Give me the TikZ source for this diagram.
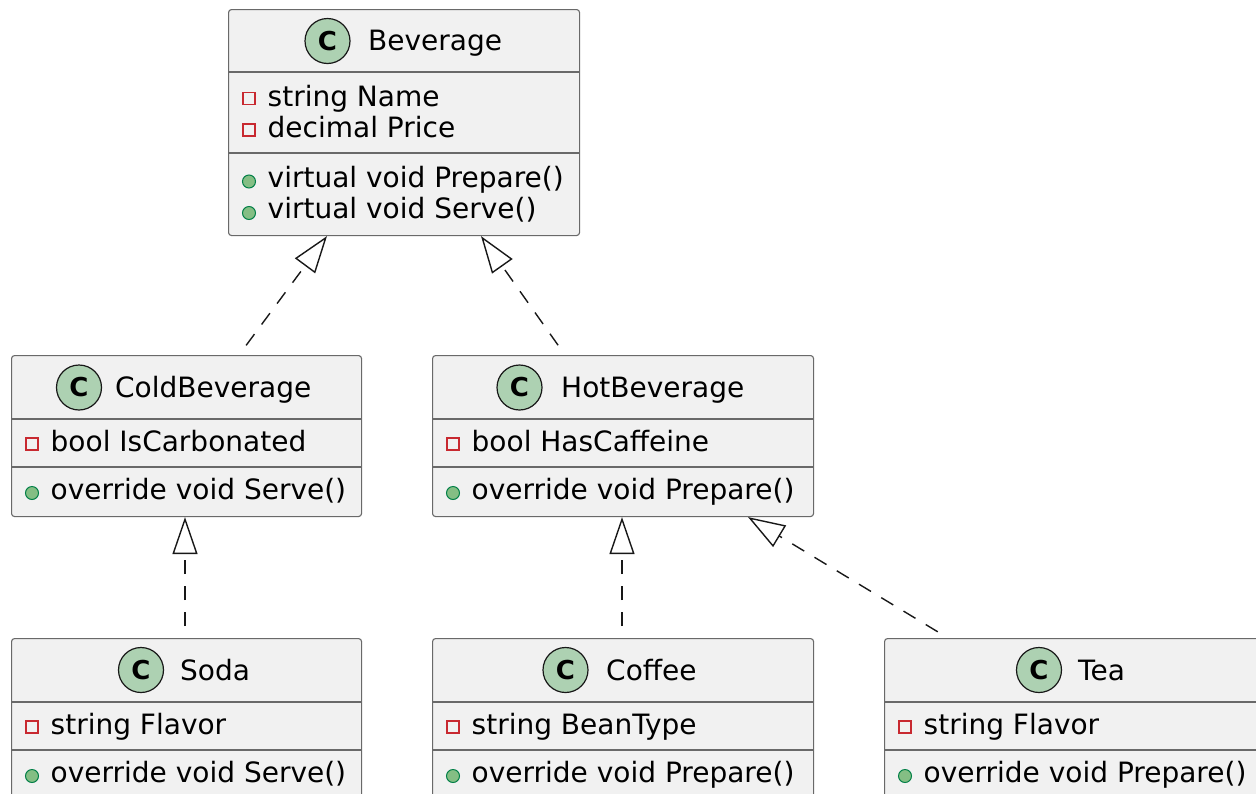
\documentclass[tikz,border=0pt]{standalone}
\usepackage{fontspec}
\setmainfont{DejaVu Sans}
\usetikzlibrary{arrows.meta,positioning}
\definecolor{boxfill}{HTML}{F1F1F1}
\definecolor{boxline}{HTML}{181818}
\definecolor{spotfill}{HTML}{ADD1B2}
\definecolor{privred}{HTML}{C82930}
\definecolor{pubfill}{HTML}{84BE84}
\definecolor{publine}{HTML}{038048}
\tikzset{
	classbox/.style = {draw = boxline!65, fill = boxfill, line width = 1.1pt, rounded corners = 3pt, inner sep = 0pt, anchor = north west},
	sepline/.style = {draw = boxline!65, line width = 1.1pt},
	spot/.style = {circle, draw = boxline, fill = spotfill, line width = 1.2pt, minimum size = 45pt, inner sep = 0pt, font = \fontsize{26}{26}\selectfont\bfseries},
	title/.style = {inner sep = 0pt, anchor = base west, font = \fontsize{28}{32}\selectfont},
	member/.style = {inner sep = 0pt, anchor = base west, font = \fontsize{28}{32}\selectfont},
	priv/.style = {draw = privred, line width = 1.3pt, minimum size = 12pt, inner sep = 0pt},
	pub/.style = {circle, draw = publine, fill = pubfill, line width = 1pt, minimum size = 13pt, inner sep = 0pt},
	extends/.style = {draw = boxline, line width = 1.4pt, dash pattern = on 14pt off 12pt, shorten <= 12pt, -{Triangle[open, length = 37pt, width = 25pt]}}
}
\begin{document}
\begin{tikzpicture}[x = 1pt, y = -1pt]
	\useasboundingbox (0,0) rectangle (1256,793);
	% Beverage
	\node [classbox, minimum width = 351pt, minimum height = 226pt] (bev) at (228,9) {};
	\draw [sepline] ([yshift = -63pt]bev.north west) -- ([yshift = -63pt]bev.north east);
	\draw [sepline] ([yshift = -144pt]bev.north west) -- ([yshift = -144pt]bev.north east);
	\node [spot] (bevspot) at (327.5,41) {C};
	\node [title] (bevname) at (368,50) {Beverage};
	\node [priv] (bevp1) at (249,98.5) {};
	\node [member] (bevm1) at (267.5,106) {string Name};
	\node [priv] (bevp2) at (249,130) {};
	\node [member] (bevm2) at (267.5,137) {decimal Price};
	\node [pub] (bevq1) at (249,181.5) {};
	\node [member] (bevm3) at (267.5,187.5) {virtual void Prepare()};
	\node [pub] (bevq2) at (249,213) {};
	\node [member] (bevm4) at (267.5,218.5) {virtual void Serve()};
	% ColdBeverage
	\node [classbox, minimum width = 350pt, minimum height = 161pt] (cold) at (11,355) {};
	\draw [sepline] ([yshift = -64pt]cold.north west) -- ([yshift = -64pt]cold.north east);
	\draw [sepline] ([yshift = -112pt]cold.north west) -- ([yshift = -112pt]cold.north east);
	\node [spot] (coldspot) at (79,387.5) {C};
	\node [title] (coldname) at (115,397) {ColdBeverage};
	\node [priv] (coldp1) at (32,444) {};
	\node [member] (coldm1) at (50.5,451) {bool IsCarbonated};
	\node [pub] (coldq1) at (32,493) {};
	\node [member] (coldm2) at (50.5,499) {override void Serve()};
	% HotBeverage
	\node [classbox, minimum width = 381pt, minimum height = 161pt] (hot) at (432,355) {};
	\draw [sepline] ([yshift = -64pt]hot.north west) -- ([yshift = -64pt]hot.north east);
	\draw [sepline] ([yshift = -112pt]hot.north west) -- ([yshift = -112pt]hot.north east);
	\node [spot] (hotspot) at (519.5,387.5) {C};
	\node [title] (hotname) at (561,397) {HotBeverage};
	\node [priv] (hotp1) at (453,444) {};
	\node [member] (hotm1) at (471.5,451) {bool HasCaffeine};
	\node [pub] (hotq1) at (453,493) {};
	\node [member] (hotm2) at (471.5,499) {override void Prepare()};
	% Soda
	\node [classbox, minimum width = 350pt, minimum height = 161pt] (soda) at (11,638) {};
	\draw [sepline] ([yshift = -64pt]soda.north west) -- ([yshift = -64pt]soda.north east);
	\draw [sepline] ([yshift = -112pt]soda.north west) -- ([yshift = -112pt]soda.north east);
	\node [spot] (sodaspot) at (141,670) {C};
	\node [title] (sodaname) at (180,680) {Soda};
	\node [priv] (sodap1) at (32,727) {};
	\node [member] (sodam1) at (50.5,734) {string Flavor};
	\node [pub] (sodaq1) at (32,776) {};
	\node [member] (sodam2) at (50.5,782) {override void Serve()};
	% Coffee
	\node [classbox, minimum width = 381pt, minimum height = 161pt] (coffee) at (432,638) {};
	\draw [sepline] ([yshift = -64pt]coffee.north west) -- ([yshift = -64pt]coffee.north east);
	\draw [sepline] ([yshift = -112pt]coffee.north west) -- ([yshift = -112pt]coffee.north east);
	\node [spot] (coffeespot) at (565.5,670) {C};
	\node [title] (coffeename) at (606,680) {Coffee};
	\node [priv] (coffeep1) at (453,727) {};
	\node [member] (coffeem1) at (471.5,734) {string BeanType};
	\node [pub] (coffeeq1) at (453,776) {};
	\node [member] (coffeem2) at (471.5,782) {override void Prepare()};
	% Tea
	\node [classbox, minimum width = 381pt, minimum height = 161pt] (tea) at (884,638) {};
	\draw [sepline] ([yshift = -64pt]tea.north west) -- ([yshift = -64pt]tea.north east);
	\draw [sepline] ([yshift = -112pt]tea.north west) -- ([yshift = -112pt]tea.north east);
	\node [spot] (teaspot) at (1039,670) {C};
	\node [title] (teaname) at (1078,680) {Tea};
	\node [priv] (teap1) at (905,727) {};
	\node [member] (team1) at (923.5,734) {string Flavor};
	\node [pub] (teaq1) at (905,776) {};
	\node [member] (team2) at (923.5,782) {override void Prepare()};
	% inheritance
	\draw [extends] ([xshift = 228pt]cold.north west) -- ([xshift = 99pt]bev.south west);
	\draw [extends] ([xshift = 133pt]hot.north west) -- ([xshift = 253pt]bev.south west);
	\draw [extends] ([xshift = 174pt]soda.north west) -- ([xshift = 174pt]cold.south west);
	\draw [extends] ([xshift = 190pt]coffee.north west) -- ([xshift = 190pt]hot.south west);
	\draw [extends] ([xshift = 64pt]tea.north west) -- ([xshift = 316pt]hot.south west);
\end{tikzpicture}
\end{document}
